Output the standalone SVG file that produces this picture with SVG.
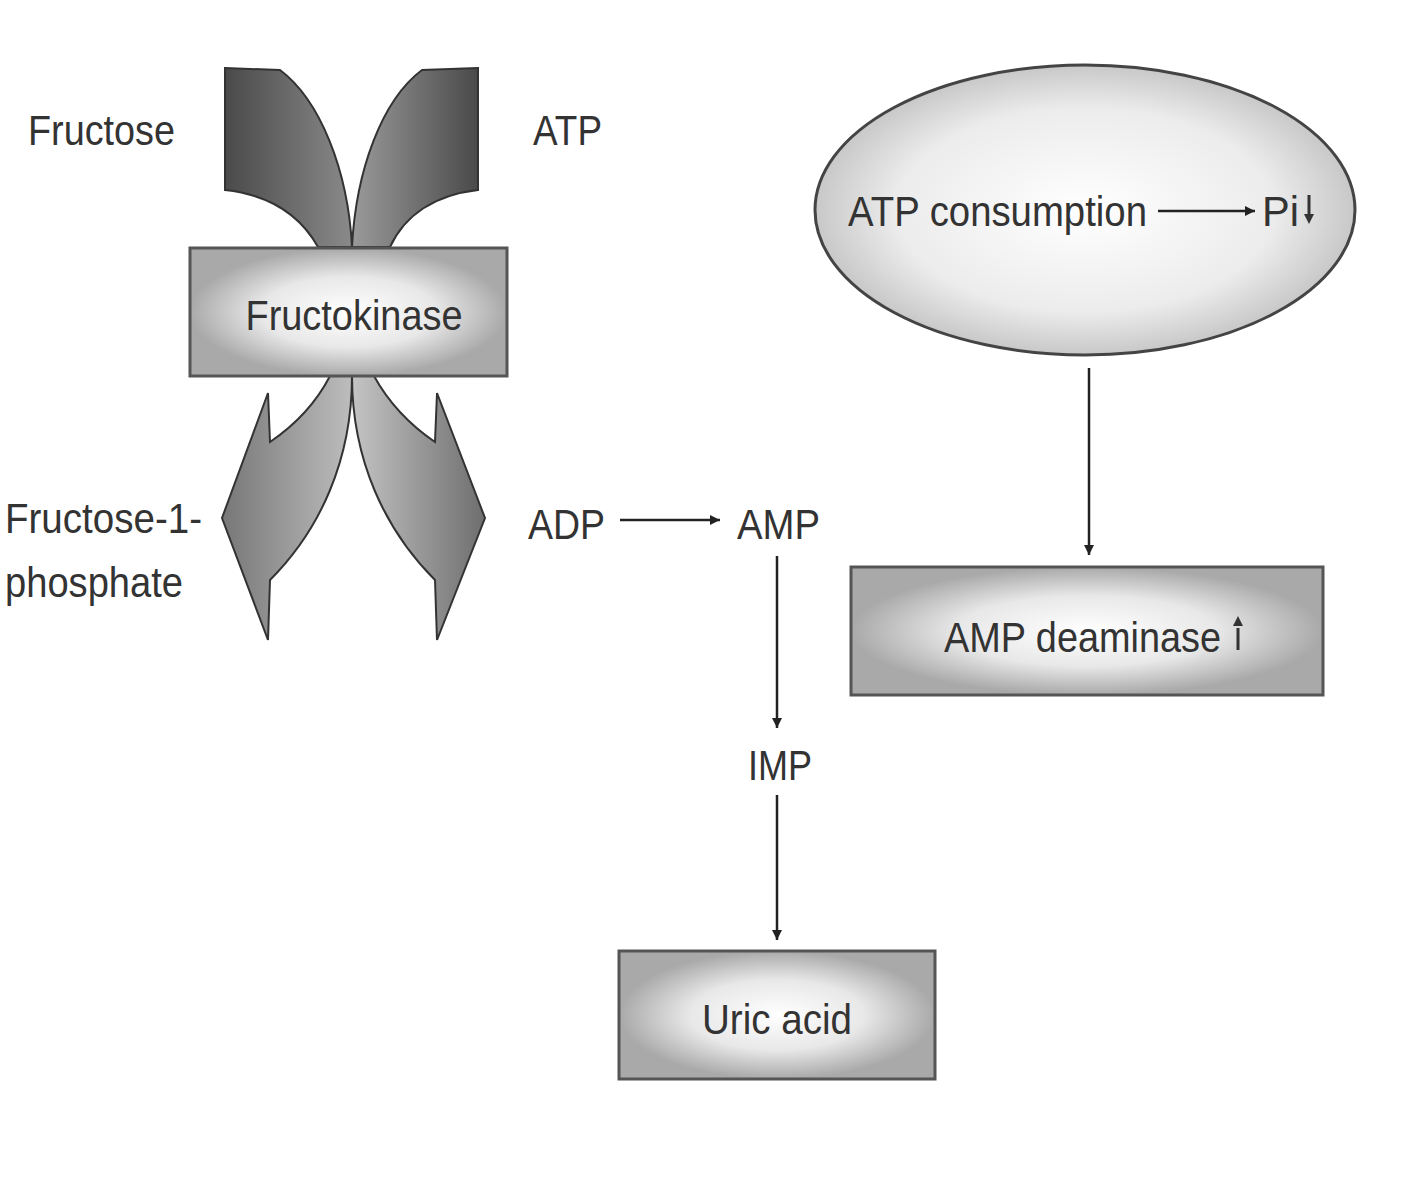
<svg xmlns="http://www.w3.org/2000/svg" width="1421" height="1200" viewBox="0 0 1421 1200">
<defs>
<radialGradient id="boxg" cx="50%" cy="50%" r="50%"><stop offset="0" stop-color="#ffffff"/><stop offset="0.55" stop-color="#e8e8e8"/><stop offset="1" stop-color="#a9a9a9"/></radialGradient>
<radialGradient id="ellg" cx="50%" cy="50%" r="50%"><stop offset="0" stop-color="#ffffff"/><stop offset="0.7" stop-color="#ececec"/><stop offset="1" stop-color="#c8c8c8"/></radialGradient>
<linearGradient id="topL" x1="0" y1="0" x2="1" y2="0"><stop offset="0" stop-color="#4a4a4a"/><stop offset="1" stop-color="#8a8a8a"/></linearGradient>
<linearGradient id="topR" x1="1" y1="0" x2="0" y2="0"><stop offset="0" stop-color="#4a4a4a"/><stop offset="1" stop-color="#9a9a9a"/></linearGradient>
<linearGradient id="botL" x1="0" y1="0" x2="1" y2="0"><stop offset="0" stop-color="#777"/><stop offset="1" stop-color="#bdbdbd"/></linearGradient>
<linearGradient id="botR" x1="0" y1="0" x2="1" y2="0"><stop offset="0" stop-color="#c4c4c4"/><stop offset="1" stop-color="#6e6e6e"/></linearGradient>
<marker id="ah" viewBox="0 0 10 10" refX="10" refY="5" markerWidth="10" markerHeight="10" markerUnits="userSpaceOnUse" orient="auto"><path d="M0,0 L10,5 L0,10 z" fill="#222"/></marker>
</defs>
<style>
text{font-family:"Liberation Sans",Arial,sans-serif;font-size:42px;fill:#333}
.box{stroke:#555;stroke-width:3}
.sh{stroke:#333;stroke-width:2}
.ln{stroke:#222;stroke-width:2.5;fill:none;marker-end:url(#ah)}
</style>
<rect width="1421" height="1200" fill="#fff"/>
<g id="fructokinase-shapes">
<path class="sh" fill="url(#topL)" d="M225,68 L280,70 C320,100 348,170 352,247 L318,247 C300,215 270,195 225,190 Z"/>
<path class="sh" fill="url(#topR)" d="M478,68 L422,70 C382,100 356,170 352,247 L390,247 C405,215 435,195 478,190 Z"/>
<path class="sh" fill="url(#botL)" d="M330,376 C315,405 295,425 270,442 L268,393 L222,518 L268,640 L270,580 C320,530 352,460 352,376 Z"/>
<path class="sh" fill="url(#botR)" d="M374,376 C390,405 410,425 435,442 L437,393 L485,518 L437,640 L435,580 C385,530 352,460 352,376 Z"/>
</g>
<g id="fructokinase"><rect class="box" x="190" y="248" width="317" height="128" fill="url(#boxg)"/><text x="354" y="330" text-anchor="middle" textLength="217" lengthAdjust="spacingAndGlyphs">Fructokinase</text></g>
<g id="fructose"><text x="28" y="145" textLength="147" lengthAdjust="spacingAndGlyphs">Fructose</text></g>
<g id="atp"><text x="533" y="145" textLength="69" lengthAdjust="spacingAndGlyphs">ATP</text></g>
<g id="f1p"><text x="5" y="533" textLength="197" lengthAdjust="spacingAndGlyphs">Fructose-1-</text><text x="5" y="597" textLength="178" lengthAdjust="spacingAndGlyphs">phosphate</text></g>
<g id="adp"><text x="528" y="539" textLength="77" lengthAdjust="spacingAndGlyphs">ADP</text></g>
<g id="amp"><text x="737" y="539" textLength="83" lengthAdjust="spacingAndGlyphs">AMP</text></g>
<g id="imp"><text x="748" y="780" textLength="64" lengthAdjust="spacingAndGlyphs">IMP</text></g>
<g id="uric"><rect class="box" x="619" y="951" width="316" height="128" fill="url(#boxg)"/><text x="777" y="1034" text-anchor="middle" textLength="150" lengthAdjust="spacingAndGlyphs">Uric acid</text></g>
<g id="atpcons"><ellipse cx="1085" cy="210" rx="270" ry="145" fill="url(#ellg)" stroke="#444" stroke-width="3"/><text x="848" y="226" textLength="299" lengthAdjust="spacingAndGlyphs">ATP consumption</text><line class="ln" x1="1158" y1="211" x2="1255" y2="211"/><text x="1262" y="226" textLength="37" lengthAdjust="spacingAndGlyphs">Pi</text><line x1="1309" y1="195" x2="1309" y2="218" stroke="#333" stroke-width="3"/><path d="M1304,214 L1314,214 L1309,224 Z" fill="#333"/></g>
<g id="ampdeam"><rect class="box" x="851" y="567" width="472" height="128" fill="url(#boxg)"/><text x="944" y="652" textLength="277" lengthAdjust="spacingAndGlyphs">AMP deaminase</text><line x1="1238" y1="628" x2="1238" y2="650" stroke="#333" stroke-width="3"/><path d="M1233,626 L1243,626 L1238,616 Z" fill="#333"/></g>
<g id="connectors">
<line class="ln" x1="620" y1="520" x2="720" y2="520"/>
<line class="ln" x1="777" y1="556" x2="777" y2="728"/>
<line class="ln" x1="777" y1="795" x2="777" y2="940"/>
<line class="ln" x1="1089" y1="368" x2="1089" y2="555"/>
</g>
</svg>
